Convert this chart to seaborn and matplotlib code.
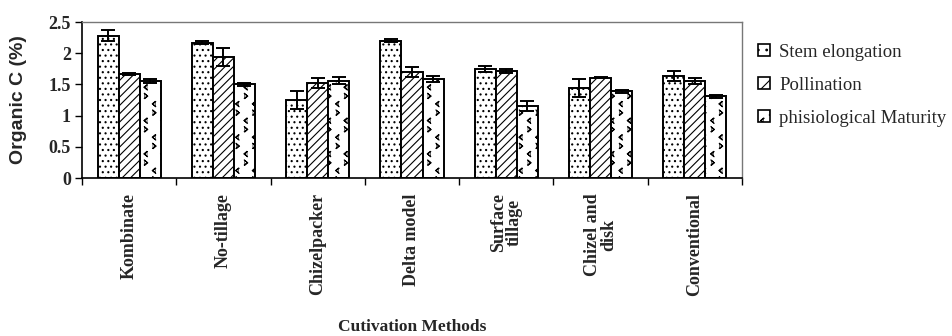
import numpy as np
import pandas as pd
import matplotlib
matplotlib.use("Agg")
import matplotlib.pyplot as plt
import matplotlib.hatch as mhatch
from matplotlib.path import Path
import seaborn as sns
from matplotlib.patches import Patch

# values
methods = ["Kombinate", "No-tillage", "Chizelpacker", "Delta model",
           "Surface\ntillage", "Chizel and\ndisk", "Conventional"]
stages = ["Stem elongation", "Pollination", "phisiological Maturity"]

stem_elongation = [2.28, 2.17, 1.25, 2.20, 1.75, 1.44, 1.64]
pollination = [1.67, 1.94, 1.53, 1.70, 1.72, 1.61, 1.56]
maturity = [1.56, 1.50, 1.56, 1.59, 1.15, 1.39, 1.31]

stem_err = [0.09, 0.02, 0.14, 0.02, 0.05, 0.14, 0.08]
poll_err = [0.02, 0.14, 0.08, 0.08, 0.03, 0.01, 0.05]
mat_err = [0.03, 0.02, 0.06, 0.05, 0.08, 0.02, 0.02]


# chevron hatch (> and <) for the maturity bars, hooked onto the 'O' symbol
class Chevrons(mhatch.Shapes):
    filled = False
    size = 1.0

    def __init__(self, hatch, density):
        self.num_rows = hatch.count("O") * density
        self.shape_vertices = np.array([
            [-0.34, 0.40], [-0.16, 0.25], [-0.34, 0.10],
            [0.34, -0.10], [0.16, -0.25], [0.34, -0.40]])
        self.shape_codes = np.array([Path.MOVETO, Path.LINETO, Path.LINETO,
                                     Path.MOVETO, Path.LINETO, Path.LINETO])
        super().__init__(hatch, density)


mhatch._hatch_types = [Chevrons if t is mhatch.LargeCircles else t
                       for t in mhatch._hatch_types]

means = [stem_elongation, pollination, maturity]
errs = [stem_err, poll_err, mat_err]
hatches = ["...", "////", "O"]

df = pd.DataFrame({
    "method": methods * 3,
    "stage": [s for s in stages for _ in methods],
    "value": stem_elongation + pollination + maturity,
})

sns.set_style("white")
plt.rcParams["hatch.linewidth"] = 0.8
serif = ["Liberation Serif", "DejaVu Serif"]

fig = plt.figure(figsize=(9.52, 3.36), dpi=100)
ax = fig.add_axes([0.0861, 0.470, 0.6933, 0.4645])

sns.barplot(data=df, x="method", y="value", hue="stage", order=methods,
            hue_order=stages, palette=["white"] * 3, width=0.67,
            errorbar=None, edgecolor="black", linewidth=1.4,
            legend=False, ax=ax)

for cont, h, m, e in zip(ax.containers, hatches, means, errs):
    xs = []
    for bar in cont:
        bar.set_hatch(h)
        bar.set_facecolor("white")
        bar.set_edgecolor("black")
        xs.append(bar.get_x() + bar.get_width() / 2)
    ax.errorbar(xs, m, yerr=e, fmt="none", ecolor="black",
                elinewidth=1.4, capsize=5, capthick=1.4, zorder=5)

ax.set_xlim(-0.5, len(methods) - 0.5)
ax.set_ylim(0, 2.5)
ax.set_yticks(np.arange(0, 2.51, 0.5))
ax.set_yticklabels(["0", "0.5", "1", "1.5", "2", "2.5"],
                   family=serif, fontweight="bold", fontsize=13)
ax.set_xticks(range(len(methods)))
ax.set_xticklabels(methods, rotation=90, family=serif, fontweight="bold",
                   fontsize=13, va="top", ha="center", linespacing=0.9)
ax.set_xticks(np.arange(-0.5, len(methods), 1.0), minor=True)
ax.tick_params(axis="x", which="major", length=0, pad=11)
ax.tick_params(axis="x", which="minor", length=5, width=1, direction="out",
               color="black", bottom=True)
ax.tick_params(axis="y", length=5, width=1, direction="out", color="black",
               left=True, pad=3)

for side in ["left", "bottom"]:
    ax.spines[side].set_color("black")
    ax.spines[side].set_linewidth(1.2)
for side in ["top", "right"]:
    ax.spines[side].set_color("#777777")
    ax.spines[side].set_linewidth(1.0)

ax.set_ylabel("Organic C (%)", family=["Liberation Sans", "DejaVu Sans"],
              fontweight="bold", fontsize=14)
ax.yaxis.set_label_coords(-0.084, 0.5)
ax.set_xlabel("Cutivation Methods", family=serif, fontweight="bold",
              fontsize=12.5)
ax.xaxis.set_label_coords(0.5, -0.9)

handles = [Patch(facecolor="white", edgecolor="black", hatch=h, linewidth=1.2)
           for h in ["..", "//", "O"]]
fig.legend(handles, stages, loc="upper left", bbox_to_anchor=(0.779, 0.92),
           frameon=False, handlelength=0.6, handleheight=0.6,
           handletextpad=0.5, labelspacing=0.86,
           prop={"family": serif, "size": 13.5})

fig.savefig("out.png", dpi=100)
